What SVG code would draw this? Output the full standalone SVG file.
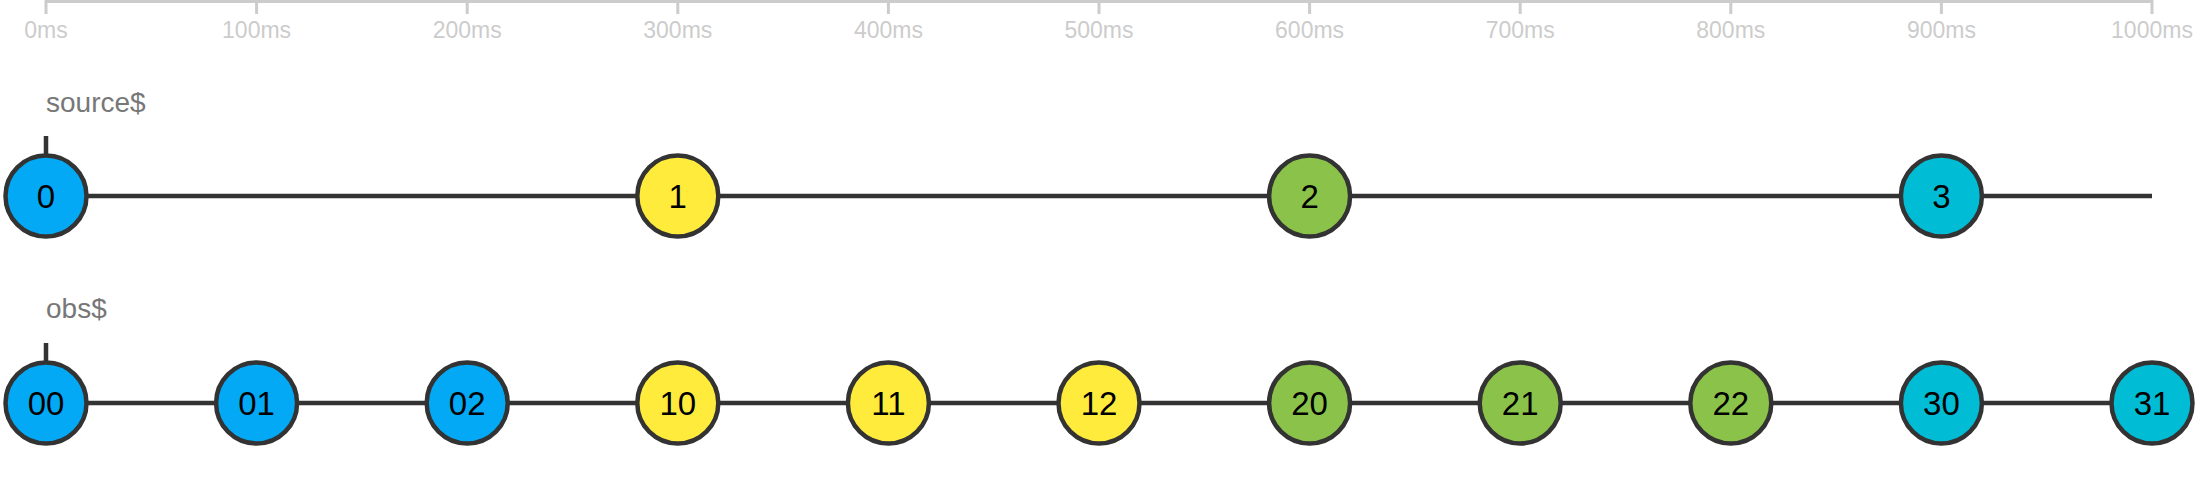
<svg xmlns="http://www.w3.org/2000/svg" width="2196" height="495" viewBox="0 0 2196 495">
<style>
.axis{stroke:#cccccc;stroke-width:3;fill:none}
.tl{font-family:"Liberation Sans",Arial,sans-serif;font-size:23px;fill:#cccccc;text-anchor:middle}
.name{font-family:"Liberation Sans",Arial,sans-serif;font-size:28px;fill:#777777}
.line{stroke:#333333;stroke-width:4.5;fill:none}
.m circle{stroke:#333333;stroke-width:4.5}
.m text{font-family:"Liberation Sans",Arial,sans-serif;font-size:33px;fill:#000000;text-anchor:middle}
.b{fill:#03A9F4}.y{fill:#FFEB3B}.g{fill:#8BC34A}.c{fill:#00BCD4}
</style>
<g id="axis">
<path class="axis" d="M46,14V1.5H2152V14M256.6,1.5V14M467.2,1.5V14M677.8,1.5V14M888.4,1.5V14M1099,1.5V14M1309.6,1.5V14M1520.2,1.5V14M1730.8,1.5V14M1941.4,1.5V14"/>
<text class="tl" x="46" y="38">0ms</text>
<text class="tl" x="256.6" y="38">100ms</text>
<text class="tl" x="467.2" y="38">200ms</text>
<text class="tl" x="677.8" y="38">300ms</text>
<text class="tl" x="888.4" y="38">400ms</text>
<text class="tl" x="1099" y="38">500ms</text>
<text class="tl" x="1309.6" y="38">600ms</text>
<text class="tl" x="1520.2" y="38">700ms</text>
<text class="tl" x="1730.8" y="38">800ms</text>
<text class="tl" x="1941.4" y="38">900ms</text>
<text class="tl" x="2152" y="38">1000ms</text>
</g>
<g id="connectors">
<path class="line" d="M46,136V196M46,196H2152"/>
<path class="line" d="M46,343V403M46,403H2152"/>
</g>
<g id="source-label"><text class="name" x="46" y="112">source$</text></g>
<g id="obs-label"><text class="name" x="46" y="318">obs$</text></g>
<g id="s0" class="m"><circle class="b" cx="46" cy="196" r="40.5"/><text x="46" y="207.5">0</text></g>
<g id="s1" class="m"><circle class="y" cx="677.8" cy="196" r="40.5"/><text x="677.8" y="207.5">1</text></g>
<g id="s2" class="m"><circle class="g" cx="1309.6" cy="196" r="40.5"/><text x="1309.6" y="207.5">2</text></g>
<g id="s3" class="m"><circle class="c" cx="1941.4" cy="196" r="40.5"/><text x="1941.4" y="207.5">3</text></g>
<g id="o00" class="m"><circle class="b" cx="46" cy="403" r="40.5"/><text x="46" y="414.5">00</text></g>
<g id="o01" class="m"><circle class="b" cx="256.6" cy="403" r="40.5"/><text x="256.6" y="414.5">01</text></g>
<g id="o02" class="m"><circle class="b" cx="467.2" cy="403" r="40.5"/><text x="467.2" y="414.5">02</text></g>
<g id="o10" class="m"><circle class="y" cx="677.8" cy="403" r="40.5"/><text x="677.8" y="414.5">10</text></g>
<g id="o11" class="m"><circle class="y" cx="888.4" cy="403" r="40.5"/><text x="888.4" y="414.5">11</text></g>
<g id="o12" class="m"><circle class="y" cx="1099" cy="403" r="40.5"/><text x="1099" y="414.5">12</text></g>
<g id="o20" class="m"><circle class="g" cx="1309.6" cy="403" r="40.5"/><text x="1309.6" y="414.5">20</text></g>
<g id="o21" class="m"><circle class="g" cx="1520.2" cy="403" r="40.5"/><text x="1520.2" y="414.5">21</text></g>
<g id="o22" class="m"><circle class="g" cx="1730.8" cy="403" r="40.5"/><text x="1730.8" y="414.5">22</text></g>
<g id="o30" class="m"><circle class="c" cx="1941.4" cy="403" r="40.5"/><text x="1941.4" y="414.5">30</text></g>
<g id="o31" class="m"><circle class="c" cx="2152" cy="403" r="40.5"/><text x="2152" y="414.5">31</text></g>
</svg>
